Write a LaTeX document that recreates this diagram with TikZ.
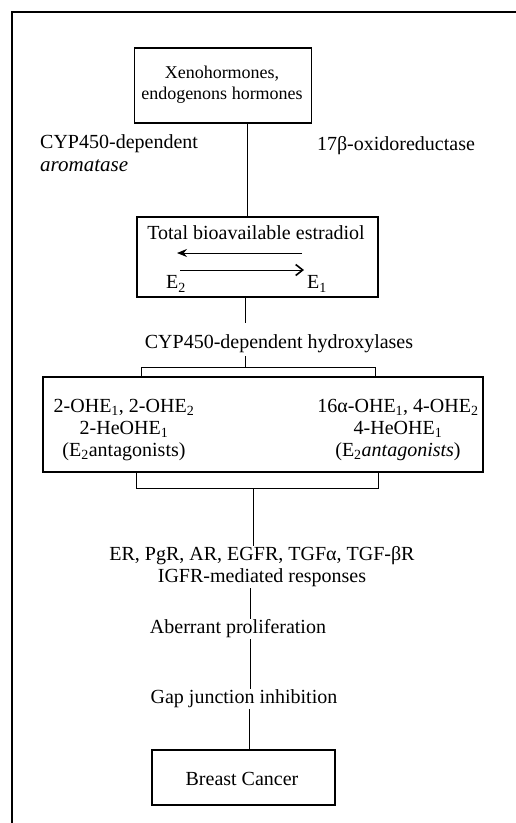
\documentclass[tikz,border=0pt]{standalone}
\usepackage{fontspec}
\setmainfont{Liberation Serif}
\usetikzlibrary{arrows.meta}
\tikzset{
  box/.style={draw, line width=1.1pt, inner sep=0pt},
  lbl/.style={inner sep=1pt, align=center, font=\fontsize{20}{22}\selectfont},
  conn/.style={line width=1pt},
  frame/.style={line width=2pt}
}
\begin{document}
\begin{tikzpicture}[x=1pt,y=-1pt]
\useasboundingbox (0,0) rectangle (516,823);
% frame (top and left only)
\coordinate (fTR) at (516,12);
\coordinate (fTL) at (12,12);
\coordinate (fBL) at (12,823);
\draw[frame] (fTR) -- (fTL) -- (fBL);

% boxes
\node[box, minimum width=177pt, minimum height=75pt] (xeno) at (223,85.5) {};
\node[lbl, font=\fontsize{18}{21}\selectfont] (xenot) at (222,85) {Xenohormones,\\endogenons hormones};

\node[box, minimum width=241pt, minimum height=80pt] (est) at (257.5,257) {};
\node[lbl] (estt) at (256,233) {Total bioavailable estradiol};
\node[lbl] (e2) at (176,284) {E\textsubscript{2}};
\node[lbl] (e1) at (317,284) {E\textsubscript{1}};
\coordinate (aL1) at (302,253);
\coordinate (aL2) at (177,253);
\coordinate (aR1) at (180,270);
\coordinate (aR2) at (304,270);
\draw[conn, -{Stealth[length=10pt,width=8pt]}] (aL1) -- (aL2);
\draw[conn, -{Straight Barb[length=7pt,width=11pt,line width=1.6pt]}] (aR1) -- (aR2);

\node[lbl, anchor=base west] (cypa) at (39,148) {CYP450-dependent};
\node[lbl, anchor=base west, font=\fontsize{21}{22}\selectfont\itshape] (arom) at (39,171) {aromatase};
\node[lbl] (oxred) at (396,146) {17β-oxidoreductase};

\node[lbl] (hydro) at (279,344) {CYP450-dependent hydroxylases};

\node[box, minimum width=440pt, minimum height=95pt] (met) at (263,424.5) {};
\node[lbl] (metL) at (124,430) {2-OHE\textsubscript{1}, 2-OHE\textsubscript{2}\\2-HeOHE\textsubscript{1}\\(E\textsubscript{2}antagonists)};
\node[lbl] (metR) at (398,430) {16α-OHE\textsubscript{1}, 4-OHE\textsubscript{2}\\4-HeOHE\textsubscript{1}\\(E\textsubscript{2}\textit{antagonists})};

\node[lbl] (resp) at (262,567) {ER, PgR, AR, EGFR, TGFα, TGF-βR\\IGFR-mediated responses};
\node[lbl] (aber) at (238,629) {Aberrant proliferation};
\node[lbl] (gap) at (244,699) {Gap junction inhibition};
\node[box, minimum width=183pt, minimum height=55pt] (bc) at (243.5,777.5) {};
\node[lbl] (bct) at (242,779) {Breast Cancer};

% connectors
\coordinate (x1) at (247,0);
\draw[conn] (xeno.south -| x1) -- (est.north -| x1);
\coordinate (x2) at (245,0);
\coordinate (h1) at (245,323);
\draw[conn] (est.south -| x2) -- (h1);
\coordinate (h2) at (245,356);
\coordinate (brT) at (245,367);
\draw[conn] (h2) -- (brT);
\coordinate (bl1) at (141,0);
\coordinate (br1) at (375,0);
\draw[conn] (met.north -| bl1) -- (bl1 |- brT) -- (br1 |- brT) -- (met.north -| br1);
\coordinate (brB) at (253,488);
\coordinate (bl2) at (136,0);
\coordinate (br2) at (378,0);
\draw[conn] (met.south -| bl2) -- (bl2 |- brB) -- (br2 |- brB) -- (met.south -| br2);
\coordinate (x3) at (253,0);
\draw[conn] (brB) -- (resp.north -| x3);
\coordinate (x4) at (250,0);
\draw[conn] (resp.south -| x4) -- (aber.north -| x4);
\draw[conn] (aber.south -| x4) -- (gap.north -| x4);
\coordinate (x5) at (249,0);
\draw[conn] (gap.south -| x5) -- (bc.north -| x5);
\end{tikzpicture}
\end{document}
